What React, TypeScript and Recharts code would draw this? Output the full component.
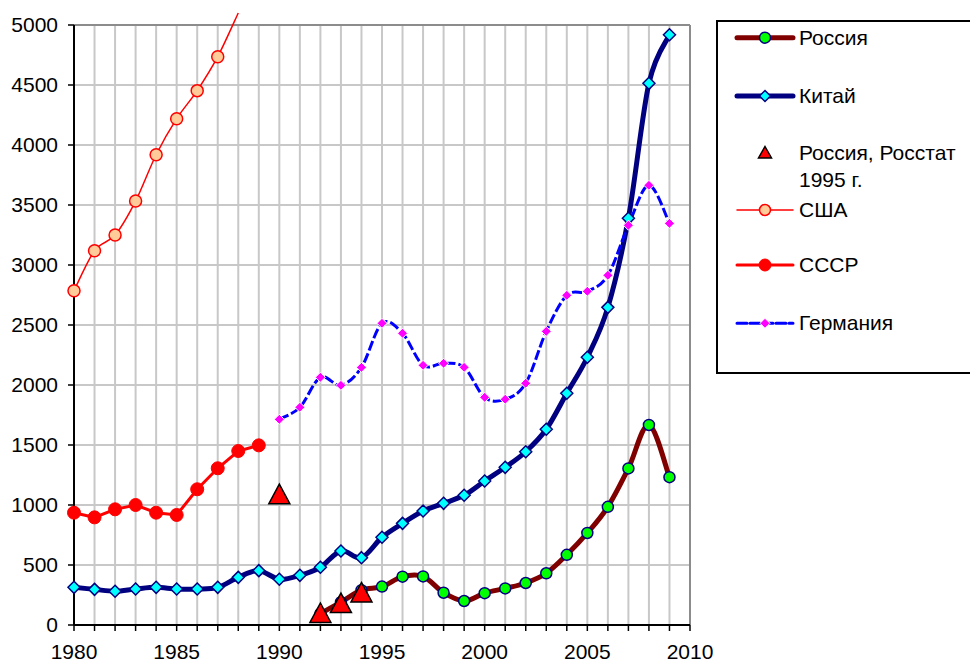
import React from 'react';
import { CartesianGrid, Legend, Line, LineChart, ReferenceLine, XAxis, YAxis } from 'recharts';

const FONT = '"Liberation Sans", Arial, sans-serif';

// years on the x axis (rows of the table)
const years = [
  1980, 1981, 1982, 1983, 1984, 1985, 1986, 1987, 1988, 1989,
  1990, 1991, 1992, 1993, 1994, 1995, 1996, 1997, 1998, 1999,
  2000, 2001, 2002, 2003, 2004, 2005, 2006, 2007, 2008, 2009,
];
const xTicks = [...years, 2010];
const yTicks = [0, 500, 1000, 1500, 2000, 2500, 3000, 3500, 4000, 4500, 5000];

// values, each array starts at its own first year
const russia = [95, 190, 290, 320, 403, 405, 269, 200, 265, 305, 350, 431, 585, 767, 985, 1305, 1667, 1232]; // 1992–2009
const china = [
  314, 297, 281, 300, 314, 300, 300, 314, 397, 453, 381, 414, 481, 617, 561,
  731, 847, 950, 1014, 1081, 1200, 1314, 1444, 1631, 1931, 2231, 2647, 3389, 4514, 4919,
]; // 1980–2009
const rosstatYears = [1990, 1992, 1993, 1994];
const rosstat = [1090, 100, 183, 271];
const usa = [2786, 3119, 3250, 3533, 3919, 4219, 4453, 4736, 5100]; // 1980–1988
const ussr = [936, 897, 964, 1000, 936, 917, 1131, 1306, 1450, 1497]; // 1980–1989
const germany = [
  1714, 1814, 2064, 1997, 2147, 2514, 2431, 2164, 2181, 2147,
  1897, 1881, 2014, 2447, 2747, 2781, 2914, 3331, 3664, 3347,
]; // 1990–2009

const at = (arr: number[], start: number, year: number) => {
  const v = arr[year - start];
  return v === undefined ? null : v;
};

const data = years.map((year) => ({
  year,
  russia: at(russia, 1992, year),
  china: at(china, 1980, year),
  rosstat: rosstatYears.includes(year) ? rosstat[rosstatYears.indexOf(year)] : null,
  usa: at(usa, 1980, year),
  ussr: at(ussr, 1980, year),
  germany: at(germany, 1990, year),
}));

// Excel-like smoothing: uniform Catmull-Rom written as cubic beziers
function excelSmooth(context: any) {
  let pts: number[][] = [];
  return {
    areaStart() {},
    areaEnd() {},
    lineStart() {
      pts = [];
    },
    point(x: number, y: number) {
      pts.push([+x, +y]);
    },
    lineEnd() {
      const n = pts.length;
      if (!n) return;
      context.moveTo(pts[0][0], pts[0][1]);
      for (let i = 0; i < n - 1; i++) {
        const p0 = pts[i > 0 ? i - 1 : 0];
        const p1 = pts[i];
        const p2 = pts[i + 1];
        const p3 = pts[i + 2 < n ? i + 2 : n - 1];
        context.bezierCurveTo(
          p1[0] + (p2[0] - p0[0]) / 6,
          p1[1] + (p2[1] - p0[1]) / 6,
          p2[0] - (p3[0] - p1[0]) / 6,
          p2[1] - (p3[1] - p1[1]) / 6,
          p2[0],
          p2[1],
        );
      }
    },
  };
}

const hidden = (p: any) => p.cx == null || p.cy == null || p.value == null || p.value > 5000;

const circleDot = (r: number, fill: string, stroke: string, sw: number) => (p: any) =>
  hidden(p) ? (
    <g key={p.index} />
  ) : (
    <circle key={p.index} cx={p.cx} cy={p.cy} r={r} fill={fill} stroke={stroke} strokeWidth={sw} />
  );

const diamondDot = (h: number, fill: string, stroke: string, sw: number) => (p: any) =>
  hidden(p) ? (
    <g key={p.index} />
  ) : (
    <polygon
      key={p.index}
      points={`${p.cx},${p.cy - h} ${p.cx + h},${p.cy} ${p.cx},${p.cy + h} ${p.cx - h},${p.cy}`}
      fill={fill}
      stroke={stroke}
      strokeWidth={sw}
    />
  );

const triangleDot = (p: any) =>
  hidden(p) ? (
    <g key={p.index} />
  ) : (
    <polygon
      key={p.index}
      points={`${p.cx},${p.cy - 10} ${p.cx + 10.5},${p.cy + 9.5} ${p.cx - 10.5},${p.cy + 9.5}`}
      fill="#ff0000"
      stroke="#000"
      strokeWidth={1.5}
      strokeLinejoin="miter"
    />
  );

function LegendBox() {
  const sym = (y: number, color: string, w: number, marker: React.ReactNode, dash?: string) => (
    <g>
      <line x1={21} x2={77} y1={y} y2={y} stroke={color} strokeWidth={w} strokeDasharray={dash} strokeLinecap="round" />
      {marker}
    </g>
  );
  const label = (top: number, text: string) => (
    <div style={{ position: 'absolute', left: 81, top: top - 12, lineHeight: '24px', whiteSpace: 'nowrap' }}>{text}</div>
  );
  return (
    <div
      style={{
        position: 'relative',
        width: 270,
        height: 354,
        boxSizing: 'border-box',
        border: '2px solid #000',
        background: '#fff',
        fontFamily: FONT,
        fontSize: 21,
        color: '#000',
      }}
    >
      <svg width={90} height={350} style={{ position: 'absolute', left: -2, top: -2 }}>
        {sym(17.7, '#800000', 5, <circle cx={49} cy={17.7} r={5.5} fill="#00ff00" stroke="#000080" strokeWidth={1.5} />)}
        {sym(
          76,
          '#000080',
          5,
          <polygon points="49,70.5 54.5,76 49,81.5 43.5,76" fill="#00ffff" stroke="#000080" strokeWidth={1.5} />,
        )}
        <polygon points="49,126.5 55.5,138 42.5,138" fill="#ff0000" stroke="#000" strokeWidth={1.5} />
        {sym(190, '#ff0000', 1.5, <circle cx={49} cy={190} r={5.5} fill="#ffcc99" stroke="#ff0000" strokeWidth={1.5} />)}
        {sym(245, '#ff0000', 3, <circle cx={49} cy={245} r={6} fill="#ff0000" stroke="#ff0000" />)}
        {sym(
          303.3,
          '#0000ff',
          3,
          <polygon points="49,298.3 54,303.3 49,308.3 44,303.3" fill="#ff00ff" stroke="#fff" strokeWidth={1} />,
          '10 3',
        )}
      </svg>
      {label(15.7, 'Россия')}
      {label(74, 'Китай')}
      {label(130.7, 'Россия, Росстат')}
      {label(158, '1995 г.')}
      {label(188, 'США')}
      {label(243, 'СССР')}
      {label(301.3, 'Германия')}
    </div>
  );
}

const tickStyle = { fill: '#000', fontSize: 21, fontFamily: FONT };

export default function App() {
  return (
    <div style={{ width: 970, height: 662, overflow: 'hidden', position: 'relative', background: '#fff' }}>
      <style>{'body{margin:0} .recharts-surface [clip-path]{clip-path:none !important}'}</style>
      <LineChart width={970} height={662} data={data} margin={{ top: 25, right: 280, bottom: 0, left: 0 }}>
        <CartesianGrid stroke="#c8c8c8" strokeWidth={2} />
        <ReferenceLine y={5000} stroke="#8c8c8c" strokeWidth={2} />
        <ReferenceLine x={2010} stroke="#8c8c8c" strokeWidth={2} />
        <XAxis
          type="number"
          dataKey="year"
          domain={[1980, 2010]}
          ticks={xTicks}
          interval={0}
          allowDataOverflow
          height={37}
          tick={tickStyle}
          tickSize={6}
          tickMargin={13}
          tickFormatter={(v: number) => (v % 5 === 0 ? String(v) : '')}
          axisLine={{ stroke: '#000', strokeWidth: 2 }}
          tickLine={{ stroke: '#000', strokeWidth: 1.5 }}
        />
        <YAxis
          type="number"
          domain={[0, 5000]}
          ticks={yTicks}
          interval={0}
          allowDataOverflow
          width={74}
          tick={tickStyle}
          tickSize={6}
          tickMargin={10}
          axisLine={{ stroke: '#000', strokeWidth: 2 }}
          tickLine={{ stroke: '#000', strokeWidth: 1.5 }}
        />
        <Legend
          layout="horizontal"
          align="center"
          verticalAlign="middle"
          wrapperStyle={{ left: 716, top: 20, width: 270, height: 354 }}
          content={() => <LegendBox />}
        />
        <Line
          dataKey="russia"
          type={excelSmooth as any}
          stroke="#800000"
          strokeWidth={5}
          dot={circleDot(5.5, '#00ff00', '#000080', 1.5)}
          activeDot={false}
          isAnimationActive={false}
        />
        <Line
          dataKey="china"
          type={excelSmooth as any}
          stroke="#000080"
          strokeWidth={5}
          dot={diamondDot(6, '#00ffff', '#000080', 1.5)}
          activeDot={false}
          isAnimationActive={false}
        />
        <Line
          dataKey="rosstat"
          stroke="none"
          dot={triangleDot}
          activeDot={false}
          isAnimationActive={false}
        />
        <Line
          dataKey="usa"
          type={excelSmooth as any}
          stroke="#ff0000"
          strokeWidth={1.5}
          dot={circleDot(6, '#ffcc99', '#ff0000', 1.5)}
          activeDot={false}
          isAnimationActive={false}
        />
        <Line
          dataKey="ussr"
          type="linear"
          stroke="#ff0000"
          strokeWidth={3}
          dot={circleDot(6.5, '#ff0000', '#ff0000', 1)}
          activeDot={false}
          isAnimationActive={false}
        />
        <Line
          dataKey="germany"
          type={excelSmooth as any}
          stroke="#0000ff"
          strokeWidth={3}
          strokeDasharray="10 3"
          dot={diamondDot(5, '#ff00ff', '#ffffff', 1)}
          activeDot={false}
          isAnimationActive={false}
        />
      </LineChart>
    </div>
  );
}
